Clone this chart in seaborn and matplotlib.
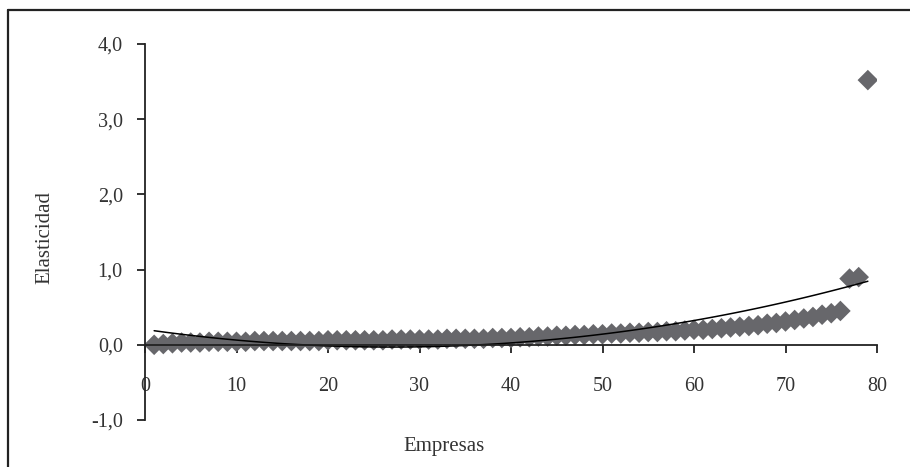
import numpy as np
import pandas as pd
import matplotlib
matplotlib.use("Agg")
import matplotlib.pyplot as plt
from matplotlib.lines import Line2D
import seaborn as sns

empresas = list(range(1, 80))
elasticidad = [
    0.00, 0.01, 0.02, 0.03, 0.03, 0.03, 0.04, 0.04, 0.04, 0.04,
    0.04, 0.05, 0.05, 0.05, 0.05, 0.05, 0.05, 0.05, 0.05, 0.06,
    0.06, 0.06, 0.06, 0.06, 0.06, 0.06, 0.07, 0.07, 0.07, 0.07,
    0.07, 0.07, 0.08, 0.08, 0.08, 0.08, 0.08, 0.09, 0.09, 0.09,
    0.10, 0.10, 0.11, 0.11, 0.12, 0.12, 0.13, 0.13, 0.14, 0.14,
    0.15, 0.15, 0.16, 0.16, 0.17, 0.17, 0.18, 0.18, 0.19, 0.20,
    0.20, 0.21, 0.22, 0.23, 0.24, 0.25, 0.26, 0.28, 0.29, 0.31,
    0.33, 0.35, 0.37, 0.40, 0.42, 0.45, 0.88, 0.90, 3.52,
]
x_ticks = [0, 10, 20, 30, 40, 50, 60, 70, 80]
y_ticks = [-1.0, 0.0, 1.0, 2.0, 3.0, 4.0]
y_tick_labels = ["-1,0", "0,0", "1,0", "2,0", "3,0", "4,0"]

df = pd.DataFrame({"Empresas": empresas, "Elasticidad": elasticidad})

sns.set_theme(style="white")
plt.rcParams["font.family"] = ["Liberation Serif", "DejaVu Serif"]

fig = plt.figure(figsize=(9.1, 4.67), dpi=100)
ax = fig.add_axes([145 / 910, 1 - 420 / 467, 732 / 910, 376 / 467])

sns.scatterplot(data=df, x="Empresas", y="Elasticidad", marker="D", s=110,
                color="#67676b", edgecolor="none", ax=ax, zorder=2)
sns.regplot(data=df, x="Empresas", y="Elasticidad", order=2, ci=None,
            scatter=False, line_kws={"color": "black", "lw": 1.1}, ax=ax)

ax.set_xlim(0, 80)
ax.set_ylim(-1, 4)
ax.set_xticks(x_ticks)
ax.set_xticklabels([str(t) for t in x_ticks])
ax.set_yticks(y_ticks)
ax.set_yticklabels(y_tick_labels)

ax.spines["bottom"].set_position(("data", 0))
ax.spines["top"].set_visible(False)
ax.spines["right"].set_visible(False)
for s in ["left", "bottom"]:
    ax.spines[s].set_color("#222222")
    ax.spines[s].set_linewidth(1.3)

ax.tick_params(axis="both", direction="out", length=6, width=1.3,
               color="#222222", labelsize=14.5, labelcolor="#333333")
ax.tick_params(axis="x", pad=17, bottom=True)
ax.tick_params(axis="y", pad=10, left=True)

ax.set_xlabel("")
ax.set_ylabel("")
fig.text(444 / 910, 1 - 446 / 467, "Empresas", ha="center", va="center",
         fontsize=15, color="#333333")
fig.text(45 / 910, 1 - 237 / 467, "Elasticidad", ha="center", va="center",
         rotation=90, fontsize=15, color="#333333")

# outer frame (left and top edges visible)
fig.add_artist(Line2D([8 / 910, 8 / 910], [0, 1 - 10 / 467],
                      transform=fig.transFigure, color="#222222", lw=1.6))
fig.add_artist(Line2D([8 / 910, 1], [1 - 10 / 467, 1 - 10 / 467],
                      transform=fig.transFigure, color="#222222", lw=1.6))

fig.savefig("out.png", dpi=100)
